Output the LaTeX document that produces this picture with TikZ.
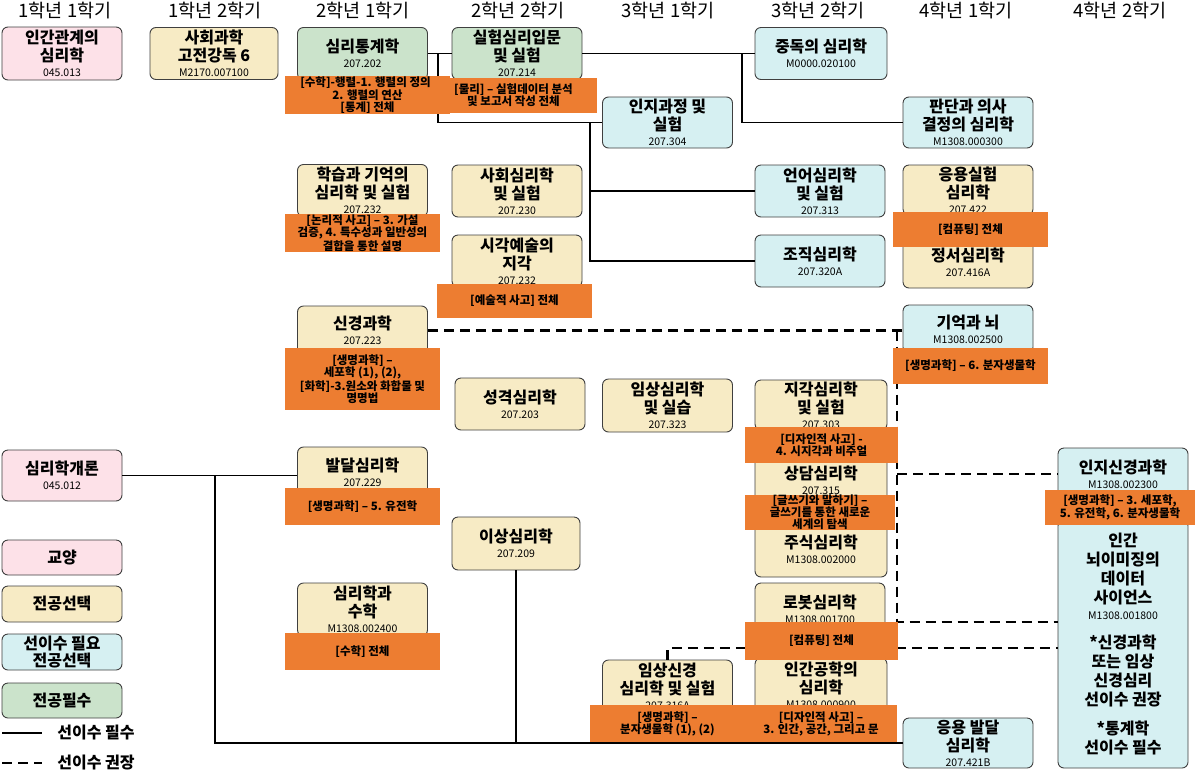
\documentclass[tikz,border=0pt]{standalone}
\usepackage{fontspec}
\setmainfont{Noto Sans CJK KR}
\usepackage{xcolor}
\usepackage{tikz}
\usetikzlibrary{calc}
\definecolor{edge}{HTML}{3F3F3F}
\definecolor{pinkc}{HTML}{FDE1E8}
\definecolor{yelc}{HTML}{F7EBC5}
\definecolor{cyanc}{HTML}{D6F0F2}
\definecolor{grnc}{HTML}{CBE3CB}
\definecolor{orng}{HTML}{ED7D31}
\tikzset{
  crs/.style={draw=edge, line width=0.9pt, rounded corners=6pt, minimum width=130pt, minimum height=52pt, inner sep=1pt, align=center, font=\bfseries\fontsize{16}{18}\selectfont},
  liberal/.style={crs, fill=pinkc, minimum width=120pt},
  elective/.style={crs, fill=yelc},
  prereq/.style={crs, fill=cyanc},
  core/.style={crs, fill=grnc},
  note/.style={fill=orng, inner sep=0pt, align=center, font=\bfseries\fontsize{11.5}{12}\selectfont},
  req/.style={draw=black, line width=1.4pt},
  rec/.style={draw=black, line width=2.2pt, dash pattern=on 10pt off 6pt},
  head/.style={font=\fontsize{18.5}{20}\selectfont},
  keytext/.style={font=\bfseries\fontsize{16}{18}\selectfont},
}
\newcommand\cd[1]{{\mdseries\fontsize{10.5}{11}\selectfont #1}}

\begin{document}
\begin{tikzpicture}[x=1pt,y=-1pt]
  \useasboundingbox (0,0) rectangle (1200,772);
  % semester headers
  \foreach \x/\hd [count=\i] in {65/1학년 1학기,215/1학년 2학기,363/2학년 1학기,518/2학년 2학기,668/3학년 1학기,818/3학년 2학기,966/4학년 1학기,1120/4학년 2학기}
    \node[head] (hd\i) at (\x,11) {\hd};

  % 1학년
  \node[liberal, minimum height=53pt] (rel) at (62,53.5) {인간관계의\\심리학\\[-3pt]\cd{045.013}};
  \node[elective, minimum width=128pt] (classic) at (214,53.5) {사회과학\\고전강독 6\\[-3pt]\cd{M2170.007100}};
  \node[liberal, minimum height=51pt] (intro) at (62,475.5) {심리학개론\\[-3pt]\cd{045.012}};

  % 2학년 1학기
  \node[core] (stat) at (362.5,53.5) {심리통계학\\[-3pt]\cd{207.202}};
  \node[elective] (learn) at (362.5,190.5) {학습과 기억의\\심리학 및 실험\\[-3pt]\cd{207.232}};
  \node[elective, minimum height=49pt] (neuro) at (362.5,330.5) {신경과학\\[-3pt]\cd{207.223}};
  \node[elective, minimum height=50pt] (dev) at (362.5,472) {발달심리학\\[-3pt]\cd{207.229}};
  \node[elective, minimum height=53pt] (math) at (362.5,609.5) {심리학과\\수학\\[-3pt]\cd{M1308.002400}};

  % 2학년 2학기
  \node[core] (exp) at (517,53.5) {실험심리입문\\및 실험\\[-3pt]\cd{207.214}};
  \node[elective] (social) at (517,191) {사회심리학\\및 실험\\[-3pt]\cd{207.230}};
  \node[elective] (art) at (517,261) {시각예술의\\지각\\[-3pt]\cd{207.232}};
  \node[elective] (pers) at (520,404) {성격심리학\\[-3pt]\cd{207.203}};
  \node[elective, minimum width=128pt, minimum height=53pt] (abn) at (516,543.5) {이상심리학\\[-3pt]\cd{207.209}};

  % 3학년 1학기
  \node[prereq, minimum height=51pt] (cog) at (667.5,122.5) {인지과정 및\\실험\\[-3pt]\cd{207.304}};
  \node[elective, minimum height=53pt] (clin) at (667.5,405.5) {임상심리학\\및 실습\\[-3pt]\cd{207.323}};
  \node[elective] (clinneuro) at (667.5,686) {임상신경\\심리학 및 실험\\[-3pt]\cd{207.316A}};

  % 3학년 2학기
  \node[prereq, minimum width=132pt] (add) at (821,53.5) {중독의 심리학\\[-3pt]\cd{M0000.020100}};
  \node[prereq] (lang) at (820,191) {언어심리학\\및 실험\\[-3pt]\cd{207.313}};
  \node[prereq] (org) at (820,261) {조직심리학\\[-3pt]\cd{207.320A}};
  \node[elective, minimum width=132pt, minimum height=50pt] (perc) at (821,405) {지각심리학\\및 실험\\[-3pt]\cd{207.303}};
  \node[elective, minimum width=132pt, minimum height=50pt] (couns) at (821,480) {상담심리학\\[-3pt]\cd{207.315}};
  \node[elective, minimum width=132pt, minimum height=55pt] (stock) at (821,549.5) {주식심리학\\[-3pt]\cd{M1308.002000}};
  \node[elective] (robot) at (820,609) {로봇심리학\\[-3pt]\cd{M1308.001700}};
  \node[elective, minimum width=132pt, minimum height=54pt] (ergo) at (821,685) {인간공학의\\심리학\\[-3pt]\cd{M1308.000900}};

  % 4학년 1학기
  \node[prereq, minimum height=51pt] (judge) at (968,122.5) {판단과 의사\\결정의 심리학\\[-3pt]\cd{M1308.000300}};
  \node[elective, minimum height=50pt] (appexp) at (968,190) {응용실험\\심리학\\[-3pt]\cd{207.422}};
  \node[elective, minimum height=51pt] (emo) at (968,262.5) {정서심리학\\[-3pt]\cd{207.416A}};
  \node[prereq, minimum height=48pt] (mem) at (968,329) {기억과 뇌\\[-3pt]\cd{M1308.002500}};
  \node[prereq, minimum height=50pt] (appdev) at (968,743) {응용 발달\\심리학\\[-3pt]\cd{207.421B}};

  % 4학년 2학기
  \node[prereq] (cogneuro) at (1123,474) {인지신경과학\\[-3pt]\cd{M1308.002300}};
  \node[prereq, minimum height=248pt, font=\bfseries\fontsize{16}{19}\selectfont] (img) at (1123,644)
    {인간\\뇌이미징의\\데이터\\사이언스\\[-3pt]\cd{M1308.001800}\\[10pt]*신경과학\\또는 임상\\신경심리\\선이수 권장\\[10pt]*통계학\\선이수 필수};

  % legend
  \node[liberal, minimum height=35pt] (kLib) at (62,557.5) {교양};
  \node[elective, minimum width=120pt, minimum height=36pt] (kEle) at (62,604) {전공선택};
  \node[prereq, minimum width=120pt, minimum height=36pt] (kPre) at (62,652) {선이수 필요\\[-1pt]전공선택};
  \node[core, minimum width=120pt, minimum height=35pt] (kCore) at (62,700.5) {전공필수};
  \coordinate (k1) at (2,733);
  \coordinate (k2) at (42,733);
  \coordinate (k3) at (2,763);
  \coordinate (k4) at (42,763);
  \draw[req] (k1) -- (k2);
  \draw[rec] (k3) -- (k4);
  \node[keytext] (kReq) at (96,733) {선이수 필수};
  \node[keytext] (kRec) at (96,763) {선이수 권장};

  % 선이수 필수
  \draw[req] (stat.east) -- (exp.west);
  \coordinate (j1) at (438,53.5);
  \draw[req] (j1) |- (cog.west);
  \coordinate (j2) at (590,122.5);
  \draw[req] (j2) |- (lang.west);
  \draw[req] (j2) |- (org.west);
  \draw[req] (exp.east) -- (add.west);
  \coordinate (j3) at (742,53.5);
  \draw[req] (j3) |- (judge.west);
  \draw[req] (intro.east) -- (dev.west |- intro.east);
  \coordinate (j4) at (215,475.5);
  \draw[req] (j4) |- (appdev.west);
  \draw[req] (abn.south) -- (abn.south |- appdev.west);

  % 선이수 권장
  \draw[rec] (neuro.east) -- (neuro.east -| mem.west);
  \coordinate (j5) at (897,330.5);
  \coordinate (i1) at (1058,622);
  \coordinate (i2) at (1058,648);
  \draw[rec] (j5) |- (i1);
  \draw[rec] (j5 |- cogneuro.west) -- (cogneuro.west);
  \draw[rec] (clinneuro.north) |- (i2);

  % 선수 교과 내용
  \node[note, minimum width=165pt, minimum height=36pt] (n1) at (367.5,95) {[수학]-행렬-1. 행렬의 정의,\\2. 행렬의 연산\\{[}통계] 전체};
  \node[note, minimum width=155pt, minimum height=38pt] (n2) at (362.5,233) {[논리적 사고] – 3. 가설\\검증, 4. 특수성과 일반성의\\결합을 통한 설명};
  \node[note, minimum width=155pt, minimum height=62pt] (n3) at (362.5,379) {[생명과학] –\\세포학 (1), (2),\\{[}화학]-3.원소와 화합물 및\\명명법};
  \node[note, minimum width=155pt, minimum height=37pt] (n4) at (362.5,506.5) {[생명과학] – 5. 유전학};
  \node[note, minimum width=155pt, minimum height=37pt] (n5) at (362.5,651.5) {[수학] 전체};
  \node[note, minimum width=167pt, minimum height=35pt] (n6) at (513.5,95.5) {[물리] – 실험데이터 분석\\및 보고서 작성 전체};
  \node[note, minimum width=155pt, minimum height=34pt] (n7) at (514.5,301) {[예술적 사고] 전체};
  \node[note, minimum width=155pt, minimum height=37pt] (n8) at (667.5,723.5) {[생명과학] –\\분자생물학 (1), (2)};
  \node[note, minimum width=152pt, minimum height=37pt] (n9) at (821,723.5) {[디자인적 사고] –\\3. 인간, 공간, 그리고 문};
  \node[note, minimum width=153pt, minimum height=36pt] (n10) at (821.5,445) {[디자인적 사고] -\\4. 시지각과 비주얼};
  \node[note, minimum width=150pt, minimum height=35pt] (n11) at (820,512.5) {[글쓰기와 말하기] –\\글쓰기를 통한 새로운\\세계의 탐색};
  \node[note, minimum width=153pt, minimum height=38pt] (n12) at (821.5,641) {[컴퓨팅] 전체};
  \node[note, minimum width=155pt, minimum height=35pt] (n13) at (970.5,229.5) {[컴퓨팅] 전체};
  \node[note, minimum width=155pt, minimum height=36pt] (n14) at (970.5,366) {[생명과학] – 6. 분자생물학};
  \node[note, minimum width=150pt, minimum height=35pt] (n15) at (1120,507.5) {[생명과학] – 3. 세포학,\\5. 유전학, 6. 분자생물학};
\end{tikzpicture}
\end{document}
